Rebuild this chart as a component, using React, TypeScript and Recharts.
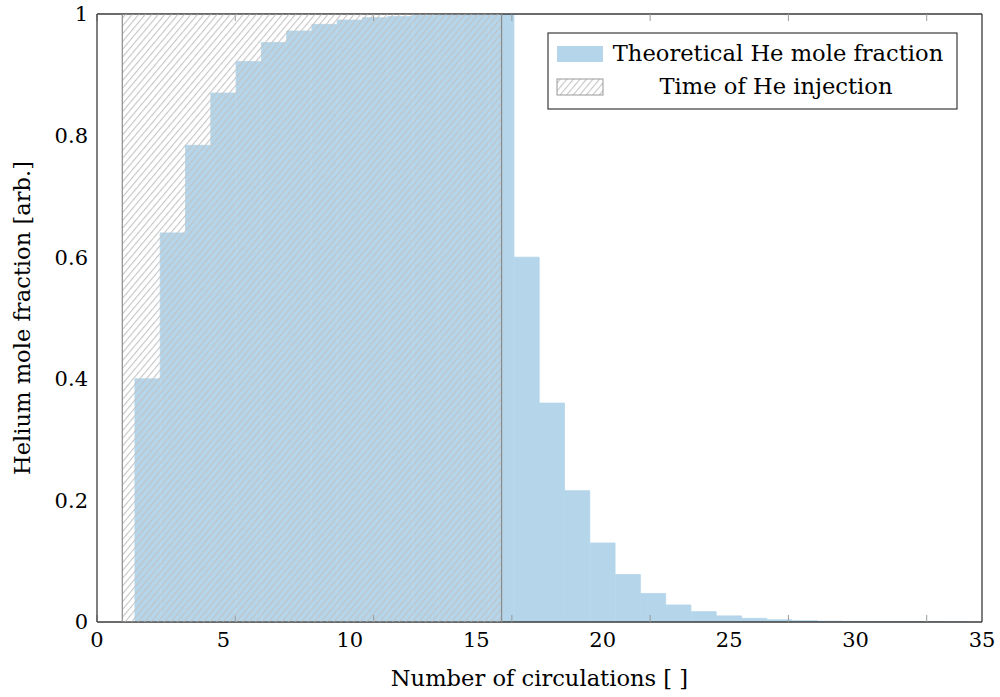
import React from "react";
import { ComposedChart, Bar, XAxis, YAxis, ReferenceArea } from "recharts";

// Number of circulations (bar centres) and the theoretical He mole fraction at each
const circulations = [
  2, 3, 4, 5, 6, 7, 8, 9, 10, 11, 12, 13, 14, 15, 16, 17, 18, 19, 20, 21, 22, 23,
  24, 25, 26, 27, 28, 29, 30, 31, 32, 33, 34,
];
const heFraction = [
  0.4, 0.64, 0.784, 0.87, 0.922, 0.953, 0.972, 0.983, 0.99, 0.994, 0.996, 0.998,
  0.999, 0.999, 1.0, 0.6, 0.36, 0.216, 0.13, 0.078, 0.047, 0.028, 0.017, 0.01,
  0.006, 0.0036, 0.0022, 0.0013, 0.0008, 0.0005, 0.0003, 0.0002, 0.0001,
];

// Injection window (in circulations)
const injectionStart = 1;
const injectionEnd = 16;

const xTicks = [0, 5, 10, 15, 20, 25, 30, 35];
const yTicks = [0, 0.2, 0.4, 0.6, 0.8, 1];
const xDomain: [number, number] = [0, 35];
const yDomain: [number, number] = [0, 1];

const data = circulations.map((n, i) => ({ n, he: heFraction[i] }));

const FONT = "'DejaVu Serif', 'Liberation Serif', serif";
const TICK_FONT_SIZE = 21;
const TEXT_FONT_SIZE = 22.6;
const BAR_FILL = "#b4d5ea";
const FRAME = "#3a3a3a";
const TICK = "#9a9a9a";

const WIDTH = 1000;
const HEIGHT = 697;
const MARGIN = { top: 14, right: 18, bottom: 0, left: 0 };
const Y_AXIS_W = 97;
const X_AXIS_H = 75;

const tickStyle = { fontFamily: FONT, fontSize: TICK_FONT_SIZE, fill: "#000" };
const blank = () => "";

function HatchDefs() {
  return (
    <svg width={0} height={0} style={{ position: "absolute" }}>
      <defs>
        <pattern
          id="he-hatch"
          patternUnits="userSpaceOnUse"
          width={5}
          height={10}
          patternTransform="rotate(40)"
        >
          <line x1={0.6} y1={0} x2={0.6} y2={10} stroke="#c2c2c2" strokeWidth={1.05} />
        </pattern>
      </defs>
    </svg>
  );
}

function YLabel(props: any) {
  const vb = props.viewBox || { x: 0, y: 0, width: 0, height: 0 };
  const cx = vb.x + 22;
  const cy = vb.y + vb.height / 2;
  return (
    <text
      x={cx}
      y={cy}
      transform={`rotate(-90, ${cx}, ${cy})`}
      textAnchor="middle"
      dominantBaseline="central"
      fontFamily={FONT}
      fontSize={TEXT_FONT_SIZE}
      fill="#000"
    >
      Helium mole fraction [arb.]
    </text>
  );
}

function LegendBox() {
  return (
    <svg
      width={411}
      height={78}
      style={{ position: "absolute", left: 547, top: 32 }}
    >
      <rect x={1} y={1} width={409} height={76} fill="#fff" stroke={FRAME} strokeWidth={1.2} />
      <rect x={10} y={14} width={46} height={16} fill={BAR_FILL} />
      <text x={231} y={29} textAnchor="middle" fontFamily={FONT} fontSize={TEXT_FONT_SIZE} fill="#000">
        Theoretical He mole fraction
      </text>
      <rect x={10} y={47} width={46} height={16} fill="url(#he-hatch)" stroke="#999" strokeWidth={1} />
      <text x={229} y={62} textAnchor="middle" fontFamily={FONT} fontSize={TEXT_FONT_SIZE} fill="#000">
        Time of He injection
      </text>
    </svg>
  );
}

export default function App() {
  return (
    <div style={{ position: "absolute", left: 0, top: 0, width: WIDTH, height: HEIGHT, background: "#fff" }}>
      <HatchDefs />
      <ComposedChart
        width={WIDTH}
        height={HEIGHT}
        data={data}
        margin={MARGIN}
        barCategoryGap={0}
        barGap={0}
      >
        {/* bottom axis with labels */}
        <XAxis
          xAxisId="x"
          dataKey="n"
          type="number"
          domain={xDomain}
          ticks={xTicks}
          allowDataOverflow
          orientation="bottom"
          height={X_AXIS_H}
          tickLine={false}
          tickSize={0}
          tickMargin={10}
          axisLine={{ stroke: FRAME, strokeWidth: 1.3 }}
          tick={tickStyle}
          label={{
            value: "Number of circulations [ ]",
            position: "insideBottom",
            offset: 11,
            fill: "#000",
            fontFamily: FONT,
            fontSize: TEXT_FONT_SIZE,
          }}
        />
        {/* inward tick marks, bottom */}
        <XAxis
          xAxisId="xb"
          type="number"
          domain={xDomain}
          ticks={xTicks}
          orientation="bottom"
          mirror
          tickFormatter={blank}
          tickSize={7}
          tickLine={{ stroke: TICK }}
          axisLine={false}
        />
        {/* top frame with inward ticks */}
        <XAxis
          xAxisId="xt"
          type="number"
          domain={xDomain}
          ticks={xTicks}
          orientation="top"
          mirror
          tickFormatter={blank}
          tickSize={7}
          tickLine={{ stroke: TICK }}
          axisLine={{ stroke: FRAME, strokeWidth: 1.3 }}
        />
        {/* left axis with labels */}
        <YAxis
          yAxisId="y"
          type="number"
          domain={yDomain}
          ticks={yTicks}
          allowDataOverflow
          orientation="left"
          width={Y_AXIS_W}
          tickLine={false}
          tickSize={0}
          tickMargin={9}
          axisLine={{ stroke: FRAME, strokeWidth: 1.3 }}
          tick={tickStyle}
          label={<YLabel />}
        />
        {/* inward tick marks, left */}
        <YAxis
          yAxisId="yl"
          type="number"
          domain={yDomain}
          ticks={yTicks}
          orientation="left"
          mirror
          tickFormatter={blank}
          tickSize={7}
          tickLine={{ stroke: TICK }}
          axisLine={false}
        />
        {/* right frame with inward ticks */}
        <YAxis
          yAxisId="yr"
          type="number"
          domain={yDomain}
          ticks={yTicks}
          orientation="right"
          mirror
          tickFormatter={blank}
          tickSize={7}
          tickLine={{ stroke: TICK }}
          axisLine={{ stroke: FRAME, strokeWidth: 1.3 }}
        />
        <Bar
          xAxisId="x"
          yAxisId="y"
          dataKey="he"
          fill={BAR_FILL}
          stroke={BAR_FILL}
          strokeWidth={0.8}
          isAnimationActive={false}
        />
        <ReferenceArea
          xAxisId="x"
          yAxisId="y"
          x1={injectionStart}
          x2={injectionEnd}
          y1={yDomain[0]}
          y2={yDomain[1]}
          fill="url(#he-hatch)"
          fillOpacity={1}
          stroke="#8a8a8a"
          strokeWidth={1.2}
          ifOverflow="hidden"
          {...({ zIndex: 600 } as any)}
        />
      </ComposedChart>
      <LegendBox />
    </div>
  );
}
